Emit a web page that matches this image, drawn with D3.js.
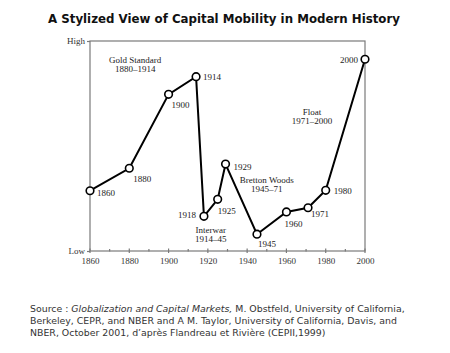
<!DOCTYPE html>
<html><head><meta charset="utf-8">
<script src="https://cdn.jsdelivr.net/npm/d3@7"></script>
<style>body{margin:0;background:#fff}svg{display:block}</style>
</head><body>
<script>
const years = [1860, 1880, 1900, 1914, 1918, 1925, 1929, 1945, 1960, 1971, 1980, 2000];
const mobility = [28.7, 39.4, 74.6, 83, 16.5, 24.6, 41.4, 8, 18.6, 20.6, 28.9, 91.3];
const xTickLabels = [1860, 1880, 1900, 1920, 1940, 1960, 1980, 2000];
const xMinorTicks = [1870, 1890, 1910, 1930, 1950, 1970, 1990];
const yTickLabels = ["Low", "High"];
const periods = ["Gold Standard|1880–1914", "Interwar|1914–45", "Bretton Woods|1945–71", "Float|1971–2000"];
const periodAnchorYear = [1883, 1921.5, 1950, 1973];
const periodAnchorLevel = [89.5, 8.6, 32.4, 64.8];

// label placement (style, not data)
const ptLabelPlace = [
  {dx: 7, dy: 5, a: "start"}, {dx: 13, dy: 14, a: "middle"}, {dx: 12, dy: 14, a: "middle"},
  {dx: 7, dy: 3, a: "start"}, {dx: -8, dy: 2, a: "end"}, {dx: 9, dy: 15, a: "middle"},
  {dx: 8, dy: 6, a: "start"}, {dx: 10, dy: 13, a: "middle"}, {dx: 7, dy: 15, a: "middle"},
  {dx: 12, dy: 9, a: "middle"}, {dx: 8, dy: 4, a: "start"}, {dx: -7, dy: 4, a: "end"}
];

const W = 450, H = 353;
const svg = d3.select("body").append("svg").attr("width", W).attr("height", H);
const x = d3.scaleLinear().domain([1860, 2000]).range([90, 365]);
const y = d3.scaleLinear().domain([0, 100]).range([251, 41]);
const serif = "'Liberation Serif','Times New Roman',serif";
const gray = "#7a7a7a";

svg.append("text").attr("x", 224).attr("y", 23).attr("text-anchor", "middle")
  .style("font-family", "Verdana,'DejaVu Sans',sans-serif").style("font-weight", "bold")
  .style("font-size", "11.8px").attr("fill", "#111").text("A Stylized View of Capital Mobility in Modern History");

// frame
svg.append("rect").attr("x", x(1860)).attr("y", y(100)).attr("width", x(2000) - x(1860))
  .attr("height", y(0) - y(100)).attr("fill", "none").attr("stroke", gray).attr("stroke-width", 1.2);

// x axis ticks
const xAxis = d3.axisBottom(x).tickValues(xTickLabels).tickSize(0).tickPadding(7).tickFormat(d3.format("d"));
const gx = svg.append("g").attr("transform", `translate(0,${y(0)})`).call(xAxis);
gx.select(".domain").remove();
gx.selectAll("text").style("font-family", serif).style("font-size", "9px").attr("fill", "#333");
svg.selectAll(".maj").data(xTickLabels).enter().append("line")
  .attr("x1", d => x(d)).attr("x2", d => x(d)).attr("y1", y(0) - 2.5).attr("y2", y(0) + 2)
  .attr("stroke", gray).attr("stroke-width", 1.2);
svg.selectAll(".min").data(xMinorTicks).enter().append("line")
  .attr("x1", d => x(d)).attr("x2", d => x(d)).attr("y1", y(0) - 2).attr("y2", y(0) + 0.5)
  .attr("stroke", gray).attr("stroke-width", 1.2);

// y labels
const yl = d3.scalePoint().domain(yTickLabels).range([y(0), y(100)]);
const yAxis = d3.axisLeft(yl).tickSize(3).tickPadding(2);
const gy = svg.append("g").attr("transform", `translate(${x(1860)},0)`).call(yAxis);
gy.select(".domain").remove();
gy.selectAll("line").attr("stroke", gray).attr("stroke-width", 1.2);
gy.selectAll("text").style("font-family", serif).style("font-size", "9px").attr("fill", "#333");

// line
const pts = years.map((yr, i) => [yr, mobility[i]]);
svg.append("path").datum(pts).attr("fill", "none").attr("stroke", "#000").attr("stroke-width", 2)
  .attr("stroke-linejoin", "miter")
  .attr("d", d3.line().x(d => x(d[0])).y(d => y(d[1])));
svg.selectAll(".pt").data(pts).enter().append("circle")
  .attr("cx", d => x(d[0])).attr("cy", d => y(d[1])).attr("r", 3.8)
  .attr("fill", "#fff").attr("stroke", "#000").attr("stroke-width", 1.6);

svg.selectAll(".pl").data(pts).enter().append("text")
  .attr("x", (d, i) => x(d[0]) + ptLabelPlace[i].dx).attr("y", (d, i) => y(d[1]) + ptLabelPlace[i].dy)
  .attr("text-anchor", (d, i) => ptLabelPlace[i].a)
  .style("font-family", serif).style("font-size", "9px").attr("fill", "#222").text(d => d[0]);

periods.forEach((p, i) => {
  const t = svg.append("text").attr("text-anchor", "middle")
    .attr("x", x(periodAnchorYear[i])).attr("y", y(periodAnchorLevel[i]))
    .style("font-family", serif).style("font-size", "9px").attr("fill", "#222");
  p.split("|").forEach((s, j) => t.append("tspan").attr("x", x(periodAnchorYear[i])).attr("dy", j ? 9 : 0).text(s));
});

// source
const src = svg.append("text").attr("x", 30).attr("y", 312)
  .style("font-family", "Verdana,'DejaVu Sans',sans-serif").style("font-size", "9.4px").attr("fill", "#333");
const l1 = src.append("tspan").attr("x", 30);
l1.append("tspan").text("Source : ");
l1.append("tspan").style("font-style", "italic").text("Globalization and Capital Markets,");
l1.append("tspan").text(" M. Obstfeld, University of California,");
src.append("tspan").attr("x", 30).attr("dy", 12).text("Berkeley, CEPR, and NBER and A M. Taylor, University of California, Davis, and");
src.append("tspan").attr("x", 30).attr("dy", 12).text("NBER, October 2001, d’après Flandreau et Rivière (CEPII,1999)");
</script>
</body></html>
